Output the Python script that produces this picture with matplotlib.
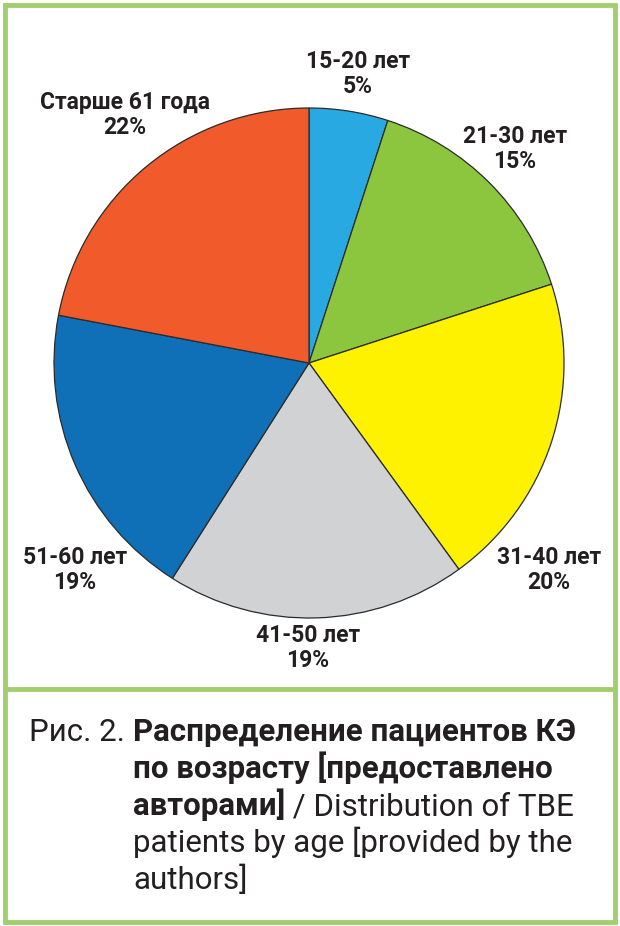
import matplotlib.pyplot as plt
from matplotlib.patches import Rectangle
from matplotlib.lines import Line2D

# Age groups of TBE patients
groups = ['15-20 лет', '21-30 лет', '31-40 лет', '41-50 лет', '51-60 лет', 'Старше 61 года']
shares = [5, 15, 20, 19, 19, 22]
colors = ['#29A9E1', '#8CC63F', '#FFF200', '#D1D2D4', '#0F70B7', '#F15A2B']

# label centres in pixels (x, y from top)
label_pos = [(358, 74), (515, 149), (549, 570), (308, 648), (75, 570), (125, 115)]

W, H = 620, 926
fig = plt.figure(figsize=(W / 100, H / 100), dpi=100)
ax = fig.add_axes([0, 0, 1, 1])

border = '#A2CE6E'
ax.add_patch(Rectangle((5, 4), 610, 917, fill=False, edgecolor=border, lw=3.5))
ax.add_line(Line2D([5, 615], [H - 689, H - 689], color=border, lw=3.5))

ax.pie(shares, colors=colors, startangle=90, counterclock=False,
       center=(309, H - 363), radius=255, frame=True,
       wedgeprops=dict(edgecolor='#2b2b2b', linewidth=0.9))
ax.set_xlim(0, W)
ax.set_ylim(0, H)
ax.axis('off')

lab_fam = ['Roboto', 'DejaVu Sans']
for g, s, (px, py) in zip(groups, shares, label_pos):
    ax.text(px, H - py, f'{g}\n{s}%', ha='center', va='center', fontsize=16.5,
            fontweight='bold', family=lab_fam, color='#231F20', linespacing=1.15)

# caption with mixed bold / regular parts
cap_size = 22.5
cap_fam = ['Roboto', 'DejaVu Sans']
fig.canvas.draw()
r = fig.canvas.get_renderer()

def put(x, y, s, bold):
    t = fig.text(x / W, 1 - y / H, s, fontsize=cap_size, family=cap_fam,
                 fontweight='bold' if bold else 'normal', color='#231F20',
                 va='baseline', ha='left')
    bb = t.get_window_extent(renderer=r)
    return bb.x1

x0 = 133
put(29, 741, 'Рис. 2.', False)
put(x0, 741, 'Распределение пациентов КЭ', True)
put(x0, 778, 'по возрасту [предоставлено', True)
xe = put(x0, 815, 'авторами]', True)
put(xe, 815, ' / Distribution of TBE', False)
put(x0, 852, 'patients by age [provided by the', False)
put(x0, 889, 'authors]', False)

fig.savefig('out.png', dpi=100)
